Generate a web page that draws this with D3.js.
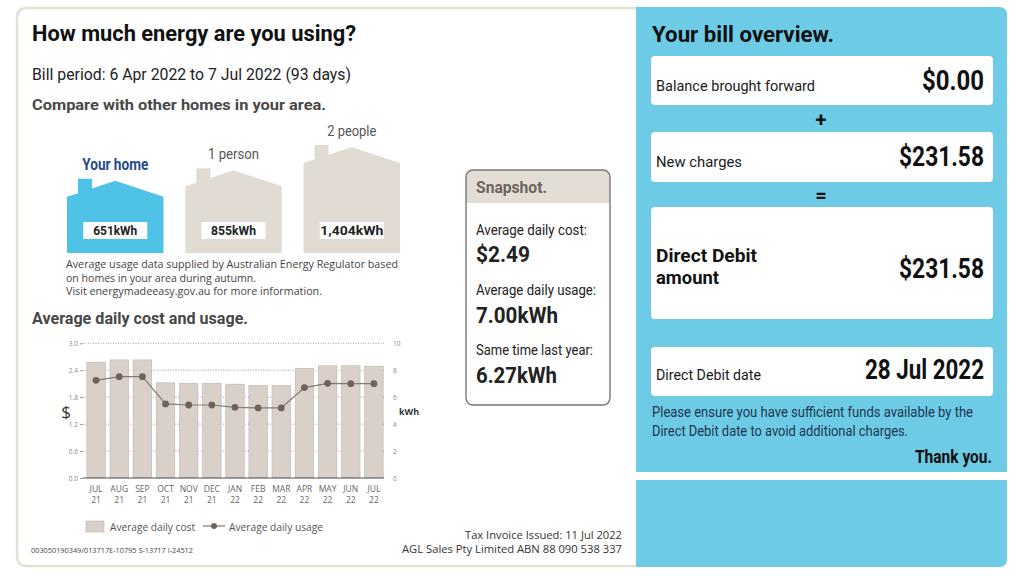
<!DOCTYPE html>
<html>
<head>
<meta charset="utf-8">
<script src="https://cdn.jsdelivr.net/npm/d3@7"></script>
<style>
  body { margin: 0; background: #fff; }
  svg { display: block; }
</style>
</head>
<body>
<div id="bill"></div>
<script>
// Datos del gráfico de coste y consumo diario
var months = ["JUL", "AUG", "SEP", "OCT", "NOV", "DEC", "JAN", "FEB", "MAR", "APR", "MAY", "JUN", "JUL"];
var years = ["21", "21", "21", "21", "21", "21", "22", "22", "22", "22", "22", "22", "22"];
var dailyCost = [2.58, 2.63, 2.63, 2.12, 2.11, 2.11, 2.09, 2.06, 2.06, 2.44, 2.50, 2.50, 2.49];
var dailyUsage = [7.25, 7.52, 7.52, 5.50, 5.42, 5.42, 5.25, 5.20, 5.20, 6.71, 7.03, 7.00, 7.00];
var costTicks = [0, 0.6, 1.2, 1.8, 2.4, 3.0];
var usageTicks = [0, 2, 4, 6, 8, 10];

// Comparación con otros hogares
var homeLabels = ["Your home", "1 person", "2 people"];
var homeUsage = [651, 855, 1404];

// Snapshot
var snapLabels = ["Average daily cost:", "Average daily usage:", "Same time last year:"];
var snapValues = ["$2.49", "7.00kWh", "6.27kWh"];

// Resumen de la factura
var billLabels = ["Balance brought forward", "New charges", "Direct Debit amount", "Direct Debit date"];
var billValues = ["$0.00", "$231.58", "$231.58", "28 Jul 2022"];

var blue = "#6dcbe5";

var svg = d3.select("#bill").append("svg")
    .attr("width", 1024)
    .attr("height", 576);

// helper para textos, w = ancho fijo
function label(g, s, x, y, o) {
  var t = g.append("text")
      .attr("x", x)
      .attr("y", y)
      .attr("text-anchor", o.anchor || "start")
      .style("font-family", o.font || "Roboto")
      .style("font-size", (o.size || 12) + "px")
      .style("font-weight", o.bold ? 700 : 400)
      .style("fill", o.color || "#111")
      .text(s);
  if (o.w) t.attr("textLength", o.w).attr("lengthAdjust", "spacingAndGlyphs");
  return t;
}

// panel izquierdo (abierto por la derecha, queda bajo el azul)
svg.append("path")
    .attr("d", "M640,8 H27 Q17,8 17,18 V556 Q17,566 27,566 H640")
    .style("fill", "#fff")
    .style("stroke", "#e3e1d6")
    .style("stroke-width", 2.5);

// panel azul derecho
svg.append("path")
    .attr("d", "M636,7 H999 Q1007,7 1007,15 V472 H636 Z")
    .style("fill", blue);
svg.append("path")
    .attr("d", "M636,480 H1007 V559 Q1007,567 999,567 H636 Z")
    .style("fill", blue);

// ---- cabeceras ----
label(svg, "How much energy are you using?", 32, 41, {size: 22, bold: true, w: 324});
label(svg, "Bill period: 6 Apr 2022 to 7 Jul 2022 (93 days)", 32, 80, {size: 16, color: "#222", w: 319});
label(svg, "Compare with other homes in your area.", 32, 110, {size: 15, bold: true, color: "#474747", w: 294});
label(svg, "Average daily cost and usage.", 32, 324, {size: 16, bold: true, color: "#474747", w: 216});

// ---- casas ----
var hx = d3.scaleBand()
    .domain(homeLabels)
    .range([67, 400])
    .paddingInner(0.184);
var hh = d3.scaleSqrt()
    .domain([0, d3.max(homeUsage)])
    .range([0, 106]);
var houseBottom = 253, roof = 16;

function housePath(x0, w, h) {
  var top = houseBottom - h, eave = top + roof;
  var ry = function(x) { return eave - (x - x0) * roof / (w / 2); };
  var c0 = x0 + 11, c1 = x0 + 25;
  return "M" + x0 + "," + houseBottom +
    "L" + x0 + "," + eave +
    "L" + c0 + "," + ry(c0) +
    "L" + c0 + "," + (top - 2) +
    "L" + c1 + "," + (top - 2) +
    "L" + c1 + "," + ry(c1) +
    "L" + (x0 + w / 2) + "," + top +
    "L" + (x0 + w) + "," + eave +
    "L" + (x0 + w) + "," + houseBottom + "Z";
}

var homeText = [{w: 66, size: 16}, {w: 51, size: 14}, {w: 49, size: 14}];
var boxText = [44, 45, 63];

homeLabels.forEach(function(d, i) {
  var x0 = hx(d), w = hx.bandwidth(), h = hh(homeUsage[i]), cx = x0 + w / 2;
  svg.append("path")
      .attr("d", housePath(x0, w, h))
      .style("fill", i === 0 ? "#4fc3e7" : "#e2dbd4");
  label(svg, d, cx, houseBottom - h - 11, {
    anchor: "middle", size: homeText[i].size, bold: i === 0,
    color: i === 0 ? "#1f4b8c" : "#555", w: homeText[i].w
  });
  svg.append("rect")
      .attr("x", cx - 32).attr("y", houseBottom - 31)
      .attr("width", 64).attr("height", 17)
      .style("fill", "#fff");
  label(svg, d3.format(",")(homeUsage[i]) + "kWh", cx, houseBottom - 18, {
    anchor: "middle", size: 13, bold: true, color: "#222", w: boxText[i]
  });
});

label(svg, "Average usage data supplied by Australian Energy Regulator based", 66, 268, {font: "Open Sans", size: 11, color: "#444", w: 332});
label(svg, "on homes in your area during autumn.", 66, 281.5, {font: "Open Sans", size: 11, color: "#444", w: 190});
label(svg, "Visit energymadeeasy.gov.au for more information.", 66, 295, {font: "Open Sans", size: 11, color: "#444", w: 256});

// ---- snapshot ----
var snap = svg.append("g");
snap.append("path")
    .attr("d", "M466,203 V177 Q466,170 473,170 H603 Q610,170 610,177 V203 Z")
    .style("fill", "#e3ddd6");
snap.append("rect")
    .attr("x", 466).attr("y", 170)
    .attr("width", 144).attr("height", 235)
    .attr("rx", 7)
    .style("fill", "none")
    .style("stroke", "#7a7774")
    .style("stroke-width", 1.4);
label(snap, "Snapshot.", 476, 193, {size: 16, bold: true, color: "#6b6461", w: 71});
var snapLabelW = [111, 120, 117], snapValueW = [54, 82, 81];
snapLabels.forEach(function(d, i) {
  label(snap, d, 476, 235 + i * 60, {size: 14, color: "#222", w: snapLabelW[i]});
  label(snap, snapValues[i], 476, 262 + i * 60.5, {size: 22, bold: true, color: "#222", w: snapValueW[i]});
});

// ---- gráfico de barras + línea ----
var chart = svg.append("g");
var x = d3.scaleBand()
    .domain(d3.range(months.length))
    .range([84.5, 385.5])
    .paddingInner(0.2)
    .paddingOuter(0.1);
var y0 = d3.scaleLinear().domain([0, 3]).range([478, 343.3]);
var y1 = d3.scaleLinear().domain([0, 10]).range([478, 343.3]);

// líneas de rejilla punteadas
chart.selectAll(".grid")
    .data(costTicks.filter(function(d) { return d > 0; }))
  .enter().append("line")
    .attr("x1", 83).attr("x2", 384)
    .attr("y1", y0).attr("y2", y0)
    .style("stroke", "#8a8a8a")
    .style("stroke-width", 0.8)
    .style("stroke-dasharray", "1,1.5");

chart.selectAll(".bar")
    .data(dailyCost)
  .enter().append("rect")
    .attr("x", function(d, i) { return x(i); })
    .attr("y", function(d) { return y0(d); })
    .attr("width", x.bandwidth())
    .attr("height", function(d) { return y0(0) - y0(d); })
    .style("fill", "#d9d1c9")
    .style("stroke", "#bdb4ab")
    .style("stroke-width", 0.6);

// eje base
chart.append("line")
    .attr("x1", 83).attr("x2", 384)
    .attr("y1", y0(0)).attr("y2", y0(0))
    .style("stroke", "#555")
    .style("stroke-width", 1.2);

var axL = chart.append("g")
    .attr("transform", "translate(83,0)")
    .call(d3.axisLeft(y0).tickValues(costTicks).tickFormat(d3.format(".1f")).tickSize(3).tickPadding(2));
var axR = chart.append("g")
    .attr("transform", "translate(384,0)")
    .call(d3.axisRight(y1).tickValues(usageTicks).tickSize(0).tickPadding(9));
[axL, axR].forEach(function(a) {
  a.select(".domain").remove();
  a.selectAll("line").style("stroke", "#999");
  a.selectAll("text")
      .style("font-family", "Open Sans")
      .style("font-size", "6.5px")
      .style("fill", "#888");
});

var line = d3.line()
    .x(function(d, i) { return x(i) + x.bandwidth() / 2; })
    .y(function(d) { return y1(d); });
chart.append("path")
    .datum(dailyUsage)
    .attr("d", line)
    .style("fill", "none")
    .style("stroke", "#857a73")
    .style("stroke-width", 1.2);
chart.selectAll(".dot")
    .data(dailyUsage)
  .enter().append("circle")
    .attr("cx", function(d, i) { return x(i) + x.bandwidth() / 2; })
    .attr("cy", function(d) { return y1(d); })
    .attr("r", 3.4)
    .style("fill", "#6e635c");

// etiquetas del eje x (mes / año)
var xl = chart.selectAll(".xl")
    .data(months)
  .enter().append("text")
    .attr("text-anchor", "middle")
    .style("font-family", "Open Sans")
    .style("font-size", "8.5px")
    .style("fill", "#666");
xl.append("tspan")
    .attr("x", function(d, i) { return x(i) + x.bandwidth() / 2; })
    .attr("y", 492)
    .text(function(d) { return d; });
xl.append("tspan")
    .attr("x", function(d, i) { return x(i) + x.bandwidth() / 2; })
    .attr("y", 502.5)
    .text(function(d, i) { return years[i]; });

label(chart, "$", 66, 418, {anchor: "middle", size: 17, color: "#333", font: "Open Sans"});
label(chart, "kWh", 399, 415, {size: 9, bold: true, color: "#333", font: "Open Sans", w: 20});

// leyenda
chart.append("rect")
    .attr("x", 86).attr("y", 521)
    .attr("width", 18).attr("height", 11)
    .style("fill", "#d9d1c9")
    .style("stroke", "#bdb4ab")
    .style("stroke-width", 0.6);
label(chart, "Average daily cost", 110, 530.5, {font: "Open Sans", size: 10.5, color: "#555", w: 85});
chart.append("line")
    .attr("x1", 203).attr("x2", 225)
    .attr("y1", 526).attr("y2", 526)
    .style("stroke", "#857a73")
    .style("stroke-width", 1.2);
chart.append("circle")
    .attr("cx", 214).attr("cy", 526).attr("r", 3)
    .style("fill", "#6e635c");
label(chart, "Average daily usage", 229, 530.5, {font: "Open Sans", size: 10.5, color: "#555", w: 94});

// pie de página
label(svg, "003050190349/013717E-10795 S-13717 I-24512", 31, 553, {font: "Open Sans", size: 6.5, color: "#444", w: 162});
label(svg, "Tax Invoice Issued: 11 Jul 2022", 622, 539, {anchor: "end", font: "Open Sans", size: 11, color: "#333", w: 157});
label(svg, "AGL Sales Pty Limited ABN 88 090 538 337", 622, 552.5, {anchor: "end", font: "Open Sans", size: 11, color: "#333", w: 220});

// ---- resumen de la factura ----
var ov = svg.append("g");
label(ov, "Your bill overview.", 652, 42, {size: 22, bold: true, color: "#111", w: 182});

var cards = [
  {y: 56, h: 49, base: 91, lw: 159, vw: 62},
  {y: 132, h: 50, base: 167, lw: 86, vw: 85},
  {y: 207, h: 112, base: 279, lw: 0, vw: 85},
  {y: 347, h: 49, base: 380, lw: 105, vw: 119}
];
billLabels.forEach(function(d, i) {
  var c = cards[i];
  ov.append("rect")
      .attr("x", 651).attr("y", c.y)
      .attr("width", 342).attr("height", c.h)
      .attr("rx", 4)
      .style("fill", "#fff");
  if (i === 2) {
    var cut = d.lastIndexOf(" ");
    label(ov, d.slice(0, cut), 656, 262, {size: 18, bold: true, w: 101});
    label(ov, d.slice(cut + 1), 656, 284, {size: 18, bold: true, w: 63});
  } else {
    label(ov, d, 656, c.base, {size: 15, color: "#1a1a1a", w: c.lw});
  }
  label(ov, billValues[i], 984, c.base - 1, {anchor: "end", size: 27, bold: true, w: c.vw});
});

label(ov, "+", 821, 127, {anchor: "middle", size: 20, bold: true});
label(ov, "=", 821, 202, {anchor: "middle", size: 20, bold: true});

label(ov, "Please ensure you have sufficient funds available by the", 652, 417, {size: 14, color: "#1d3550", w: 321});
label(ov, "Direct Debit date to avoid additional charges.", 652, 436, {size: 14, color: "#1d3550", w: 256});
label(ov, "Thank you.", 992, 463, {anchor: "end", size: 18, bold: true, color: "#111", w: 77});
</script>
</body>
</html>
